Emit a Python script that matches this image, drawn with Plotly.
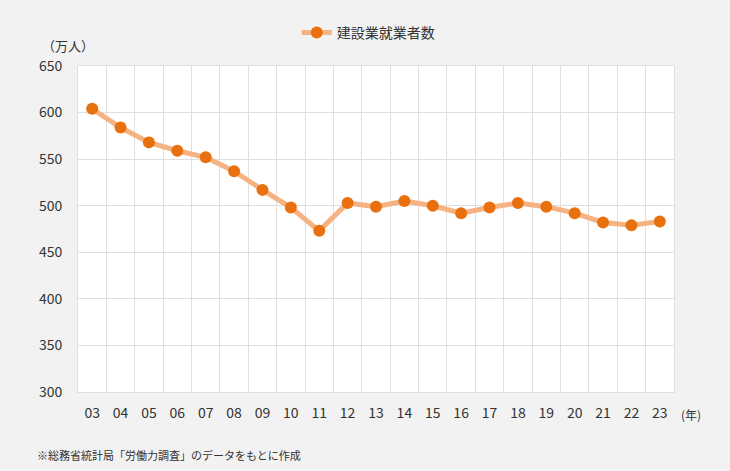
import plotly.graph_objects as go

years = ["03","04","05","06","07","08","09","10","11","12","13","14","15","16","17","18","19","20","21","22","23"]
workers = [604,584,568,559,552,537,517,498,473,503,499,505,500,492,498,503,499,492,482,479,483]
y_ticks = [300,350,400,450,500,550,600,650]

FONT = "Noto Sans CJK JP"

fig = go.Figure()
fig.add_trace(go.Scatter(
    x=years, y=workers, mode="lines+markers", name="建設業就業者数",
    line=dict(color="#f5b283", width=5),
    marker=dict(color="#e8700e", size=12),
))

fig.update_layout(
    width=730, height=471,
    margin=dict(l=78, r=56, t=66, b=79, autoexpand=False),
    paper_bgcolor="#f2f2f2", plot_bgcolor="#ffffff",
    font=dict(family=FONT, color="#333333", size=14),
    showlegend=True,
    legend=dict(orientation="h", x=0.487, xanchor="center", y=0.93, yref="container", yanchor="middle",
                font=dict(size=14, color="#333333"), bgcolor="rgba(0,0,0,0)", borderwidth=0),
    xaxis=dict(type="category", tickson="boundaries", range=[-0.5, 20.5], showgrid=True,
               gridcolor="#dfdfdf", gridwidth=1,
               ticks="", showline=True, linecolor="#dfdfdf", mirror=True, ticklen=0,
               ticklabelstandoff=8,
               tickfont=dict(size=14, color="#333333")),
    yaxis=dict(range=[300,650], tickvals=y_ticks, showgrid=True, gridcolor="#dfdfdf",
               showline=True, linecolor="#dfdfdf", mirror=True, zeroline=False, ticks="",
               ticklen=0, ticklabelstandoff=12, tickfont=dict(size=14, color="#333333")),
    annotations=[
        dict(text="（万人）", x=40, y=46, xref="paper", yref="paper", showarrow=False,
             font=dict(size=13, color="#333333"), xanchor="left", yanchor="middle"),
        dict(text="(年)", x=679, y=414, xref="paper", yref="paper", showarrow=False,
             font=dict(size=12, color="#333333"), xanchor="left", yanchor="middle"),
        dict(text="※総務省統計局「労働力調査」のデータをもとに作成", x=35, y=455, xref="paper", yref="paper",
             showarrow=False, font=dict(size=11, color="#333333"), xanchor="left", yanchor="middle"),
    ],
)

# convert pixel positions for annotations to paper coords
pw = 730 - 78 - 56
ph = 471 - 66 - 79
for a in fig.layout.annotations:
    a.x = (a.x - 78) / pw
    a.y = (471 - 79 - a.y) / ph

fig.write_html("out.html", config={"displayModeBar": False},
               post_script="document.body.style.margin='0';document.body.style.background='#f2f2f2';")
